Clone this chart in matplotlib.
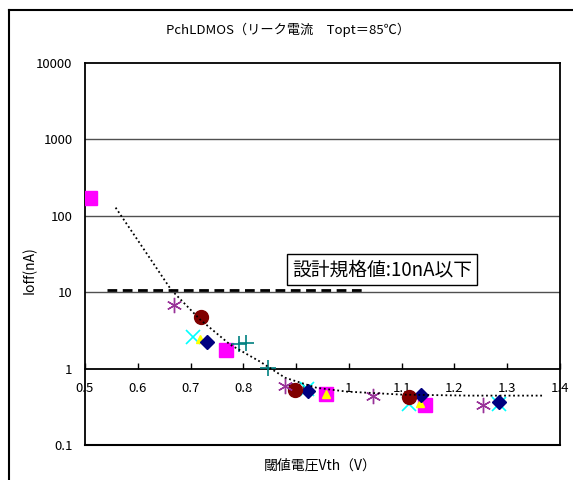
import matplotlib
matplotlib.use("Agg")
import matplotlib.pyplot as plt
from matplotlib.lines import Line2D

plt.rcParams['font.family'] = ['Noto Sans CJK JP', 'DejaVu Sans']

# measured leakage per sample group (Vth [V], Ioff [nA])
sq_vth = [0.509, 0.767, 0.956, 1.144]
sq_ioff = [169, 1.77, 0.470, 0.337]
cx_vth = [0.705, 0.921, 1.114, 1.284]
cx_ioff = [2.57, 0.547, 0.345, 0.348]
tri_vth = [0.718, 0.956, 1.135]
tri_ioff = [2.47, 0.470, 0.355]
dia_vth = [0.731, 0.922, 1.136, 1.284]
dia_ioff = [2.21, 0.515, 0.456, 0.366]
cir_vth = [0.720, 0.898, 1.113]
cir_ioff = [4.70, 0.531, 0.421]
ast_vth = [0.669, 0.879, 1.045, 1.255]
ast_ioff = [6.76, 0.586, 0.433, 0.337]
pl_vth = [0.792, 0.805, 0.847]
pl_ioff = [2.13, 2.17, 1.02]

# trend curve
tr_vth = [0.558, 0.599, 0.663, 0.718, 0.775, 0.832, 0.879, 0.939, 0.996, 1.102, 1.229, 1.368]
tr_ioff = [128, 49, 10.8, 4.39, 2.06, 1.23, 0.76, 0.56, 0.50, 0.456, 0.443, 0.443]

# spec limit
spec_vth = [0.542, 1.025]
spec_ioff = [10.8, 10.8]

xticks = [0.5, 0.6, 0.7, 0.8, 0.9, 1.0, 1.1, 1.2, 1.3, 1.4]
xlabels = ['0.5', '0.6', '0.7', '0.8', '0.9', '1', '1.1', '1.2', '1.3', '1.4']
yticks = [0.1, 1, 10, 100, 1000, 10000]
ylabels = ['0.1', '1', '10', '100', '1000', '10000']

fig = plt.figure(figsize=(5.73, 4.8), dpi=100)
ax = fig.add_axes([85/573, 35/480, 475/573, 382/480])
ax.set_yscale('log')
ax.set_xlim(0.5, 1.4)
ax.set_ylim(0.1, 10000)

for v in [10, 100, 1000]:
    ax.axhline(v, color='#505050', lw=1.0, zorder=1)

ax.plot(spec_vth, spec_ioff, color='black', lw=2, ls=(0, (3.5, 2)), zorder=2)

ax.plot(sq_vth, sq_ioff, 's', color='#ff00ff', ms=9.5, mec='#ff00ff', zorder=3)
ax.plot(cx_vth, cx_ioff, 'x', color='#00ffff', ms=10, mew=1.2, zorder=3)
ax.plot(tri_vth, tri_ioff, '^', color='#ffff00', ms=6, mec='#ffff00', zorder=3)
ax.plot(dia_vth, dia_ioff, 'D', color='#000080', ms=7, mec='#000080', zorder=3)
ax.plot(cir_vth, cir_ioff, 'o', color='#800000', ms=10, mec='#800000', zorder=3)
ax.plot(ast_vth, ast_ioff, marker=(6, 2, 0), ls='none', color='#993399', ms=11, mew=1.0, zorder=3)
ax.plot(pl_vth, pl_ioff, '+', color='#008080', ms=12, mew=1.2, zorder=3)

ax.plot(tr_vth, tr_ioff, color='black', lw=1.3, ls=(0, (1, 1.5)), zorder=4)

ax.text(1.063, 19.8, '設計規格値:10nA以下', fontsize=13.5, ha='center', va='center',
        bbox=dict(boxstyle='square,pad=0.25', fc='white', ec='black', lw=1), zorder=5)

# x axis crosses at 1 nA
ax.spines['bottom'].set_position(('data', 1))
for s in ['top', 'left', 'right', 'bottom']:
    ax.spines[s].set_linewidth(1.3)
    ax.spines[s].set_color('black')
ax.axhline(0.1, color='black', lw=1.5, clip_on=False, zorder=1)

ax.set_xticks(xticks)
ax.set_xticklabels(xlabels)
ax.set_yticks(yticks)
ax.set_yticklabels(ylabels)
ax.minorticks_off()
ax.tick_params(axis='x', direction='in', length=4, width=1, pad=10, labelsize=9.5)
ax.tick_params(axis='y', length=0, pad=9, labelsize=9.5)

fig.text(288/573, 1 - 30/480, 'PchLDMOS（リーク電流　Topt＝85℃）', fontsize=9.5, ha='center', va='center')
fig.text(320/573, 1 - 466/480, '閾値電圧Vth（V）', fontsize=10, ha='center', va='center')
fig.text(30/573, 1 - 270/480, 'Ioff(nA)', fontsize=10, ha='center', va='center', rotation=90)

# chart area border
fig.add_artist(Line2D([9/573, 9/573], [0, 1 - 10/480], color='black', lw=1.5))
fig.add_artist(Line2D([9/573, 1], [1 - 10/480, 1 - 10/480], color='black', lw=1.5))

fig.savefig('out.png', dpi=100)
